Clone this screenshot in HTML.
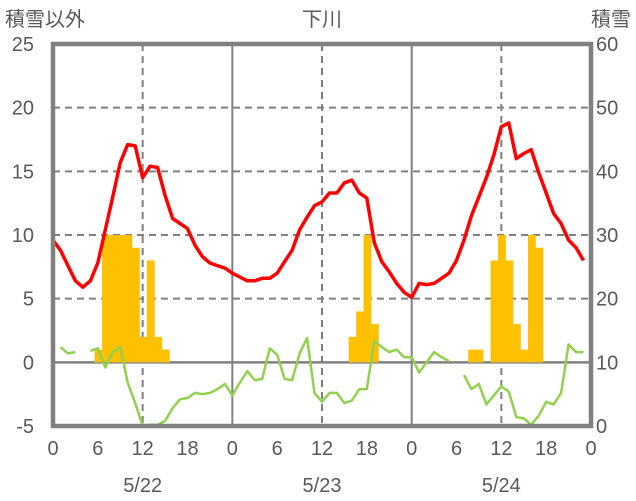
<!DOCTYPE html>
<html><head><meta charset="utf-8"><style>
html,body{margin:0;padding:0;background:#fff;}
svg{display:block;font-family:"Liberation Sans","Noto Sans CJK JP",sans-serif;}
</style></head><body>
<svg id="chart" width="636" height="501"></svg>
<script>
const dayLabels = ["5/22","5/23","5/24"];
const leftTicks = [-5,0,5,10,15,20,25];
const rightTicks = [0,10,20,30,40,50,60];
const hourTicks = [0,6,12,18];
const redSeries = [9.6,8.8,7.6,6.4,5.9,6.4,7.8,10.4,13.0,15.7,17.1,17.0,14.5,15.4,15.3,13.1,11.3,10.9,10.5,9.2,8.3,7.8,7.6,7.4,
7.0,6.7,6.4,6.4,6.6,6.6,7.0,7.9,8.8,10.4,11.4,12.3,12.6,13.3,13.3,14.1,14.3,13.3,12.9,9.4,7.9,7.1,6.2,5.5,
5.1,6.2,6.1,6.2,6.6,7.0,8.0,9.6,11.5,13.0,14.5,16.3,18.5,18.8,16.0,16.4,16.7,14.9,13.3,11.7,10.9,9.6,9.0,8.0];
const greenSeries = [null,1.2,0.7,0.8,null,0.9,1.1,-0.4,0.8,1.2,-1.6,-3.2,-5.0,-4.9,-4.9,-4.6,-3.6,-2.9,-2.8,-2.4,-2.5,-2.4,-2.1,-1.7,
-2.6,-1.6,-0.7,-1.4,-1.3,1.1,0.6,-1.3,-1.4,0.7,1.9,-2.4,-3.1,-2.4,-2.4,-3.2,-3.0,-2.1,-2.1,1.7,1.2,0.8,1.0,0.4,
0.4,-0.8,0.0,0.8,0.4,0.1,null,-1.0,-2.1,-1.7,-3.3,-2.6,-1.9,-2.3,-4.3,-4.4,-4.9,-4.2,-3.1,-3.3,-2.4,1.4,0.8,0.8];
const barHours = [6,7,8,9,10,11,12,13,14,15, 40,41,42,43, 56,57,59,60,61,62,63,64,65];
const barValues = [1,10,10,10,10,9,2,8,2,1, 2,4,10,3, 1,1,8,10,8,3,1,10,9];

const NS="http://www.w3.org/2000/svg";
const svg=document.getElementById('chart');
const X0=53,X1=591,Y0=44,Y1=426,HOURS=72;
const xs=h=>X0+(X1-X0)*h/HOURS;
const yL=v=>Y1-(v+5)*(Y1-Y0)/30;
const yR=v=>Y1-v*(Y1-Y0)/60;
function mk(tag,attrs,parent){const e=document.createElementNS(NS,tag);for(const k in attrs)e.setAttribute(k,attrs[k]);(parent||svg).appendChild(e);return e;}

leftTicks.forEach(v=>{
  if(v===-5||v===25) return;
  const l=mk('line',{x1:X0,x2:X1,y1:yL(v),y2:yL(v),stroke:'#808080','stroke-width':v===0?2.5:2,'stroke-dasharray':v===0?'none':'7,5'});
  
  
});
for(let h=6;h<HOURS;h+=6){
  if(h%12!==0) continue;
  const day=h%24===0;
  const l=mk('line',{x1:xs(h),x2:xs(h),y1:Y0,y2:Y1,stroke:'#808080','stroke-width':2,'stroke-dasharray':day?'none':'7,5'});
  
  
}
const bw=(X1-X0)/HOURS;
barHours.forEach((h,i)=>{
  const top=yL(barValues[i]),base=yL(0);
  const r=mk('rect',{x:xs(h)-bw/2+0.5,y:top,width:bw+0.3,height:base-top,fill:'#FFC000'});
  
  
});
function drawLine(data,color,name){
  let d='',pen=false;
  data.forEach((v,h)=>{
    if(v===null){pen=false;return;}
    d+=(pen?'L':'M')+xs(h).toFixed(1)+','+yL(v).toFixed(1);pen=true;
  });
  const p=mk('path',{d:d,fill:'none',stroke:color,'stroke-width':name==='red-line'?3.5:2.5,'stroke-linejoin':'round'});
  
  
}
drawLine(greenSeries,'#92D050','green-line');
drawLine(redSeries,'#FF0000','red-line');
const f=mk('rect',{x:X0,y:Y0,width:X1-X0,height:Y1-Y0,fill:'none',stroke:'#808080','stroke-width':4.5});


function txt(s,x,y,anchor,name,size){const t=mk('text',{x:x,y:y,'text-anchor':anchor,fill:'#595959','font-size':size||20});t.textContent=s;return t;}
leftTicks.forEach(v=>txt(String(v),34,yL(v)+7,'end','left-tick-label'));
rightTicks.forEach(v=>txt(String(v),596,yR(v)+7,'start','right-tick-label'));
for(let d=0;d<=3;d++){
  hourTicks.forEach(h=>{
    const hh=d*24+h; if(hh>HOURS) return;
    txt(String(h),xs(hh),455,'middle','x-tick-label');
  });
}
dayLabels.forEach((s,i)=>txt(s,xs(i*24+12),492,'middle','date-label'));
txt('積雪以外',5,26,'start','left-axis-title');
txt('下川',322,26,'middle','chart-title');
txt('積雪',631,26,'end','right-axis-title');
</script>
</body></html>
